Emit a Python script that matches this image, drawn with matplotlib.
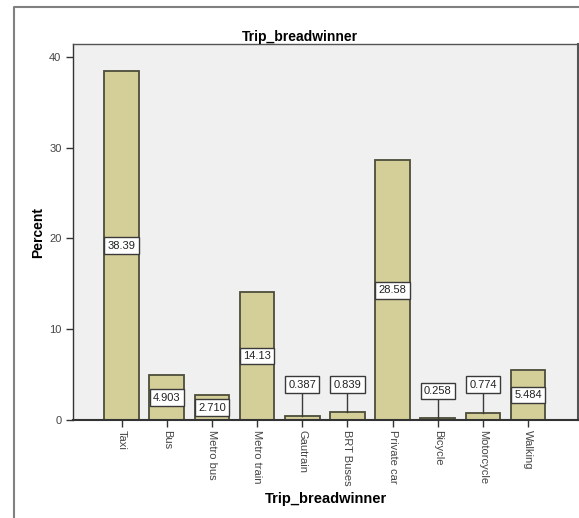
import matplotlib as mpl
mpl.use('Agg')

import numpy as np
import matplotlib.pyplot as plt
from matplotlib.lines import Line2D

plt.rcParams['font.family'] = ['Liberation Sans', 'DejaVu Sans']

# data
modes = ['Taxi', 'Bus', 'Metro bus', 'Metro train', 'Gautrain', 'BRT Buses',
         'Private car', 'Bicycle', 'Motorcycle', 'Walking']
percent = [38.39, 4.903, 2.710, 14.13, 0.387, 0.839, 28.58, 0.258, 0.774, 5.484]
labels = ['38.39', '4.903', '2.710', '14.13', '0.387', '0.839', '28.58',
          '0.258', '0.774', '5.484']
# label heights for the small bars (box drawn above the bar with a leader)
callout_y = {4: 3.9, 5: 3.9, 7: 3.2, 8: 3.9}

fig = plt.figure(figsize=(5.79, 5.18), dpi=100)
ax = fig.add_axes([0.1266, 0.1892, 0.8712, 0.7258])
ax.set_facecolor('#f0f0f0')

x = np.arange(len(modes))
ax.bar(x, percent, width=0.77, color='#d4cf98', edgecolor='#4d4d3a',
       linewidth=1.3, zorder=2)

box = dict(boxstyle='square,pad=0.3', facecolor='white',
           edgecolor='#3a3a3a', linewidth=1.0)
for i, (v, s) in enumerate(zip(percent, labels)):
    if i in callout_y:
        ty = callout_y[i]
        ax.plot([i, i], [v, ty], color='#3a3a3a', linewidth=1.0, zorder=3)
        ax.text(i, ty, s, ha='center', va='center', fontsize=8,
                color='#222222', bbox=box, zorder=4)
    else:
        ax.text(i, v / 2, s, ha='center', va='center', fontsize=8,
                color='#222222', bbox=box, zorder=4)

ax.set_xlim(-1.07, 10.1)
ax.set_ylim(0, 41.4)
ax.set_yticks([0, 10, 20, 30, 40])
ax.set_xticks(x)
ax.set_xticklabels(modes, rotation=-90, fontsize=8, color='#444444')
ax.tick_params(axis='y', labelsize=8, labelcolor='#444444', length=5,
               width=1, color='#333333')
ax.tick_params(axis='x', length=5, width=1, color='#333333', pad=2)

for side in ['left', 'bottom', 'top', 'right']:
    ax.spines[side].set_color('#555555')
    ax.spines[side].set_linewidth(1.0)
ax.spines['left'].set_color('#333333')
ax.spines['bottom'].set_color('#333333')
ax.spines['bottom'].set_linewidth(1.5)
ax.spines['right'].set_linewidth(1.5)

ax.set_ylabel('Percent', fontsize=10, fontweight='bold', labelpad=3)
ax.set_xlabel('Trip_breadwinner', fontsize=10.5, fontweight='bold',
              labelpad=5)
fig.text(0.518, 0.928, 'Trip_breadwinner', ha='center', va='center',
         fontsize=10, fontweight='bold')

# outer frame of the chart window
fig.add_artist(Line2D([14 / 579, 14 / 579, 1.0], [0.0, 1 - 7 / 518, 1 - 7 / 518],
                      transform=fig.transFigure, color='#808080',
                      linewidth=1.5))

plt.savefig('out.png', dpi=100)
